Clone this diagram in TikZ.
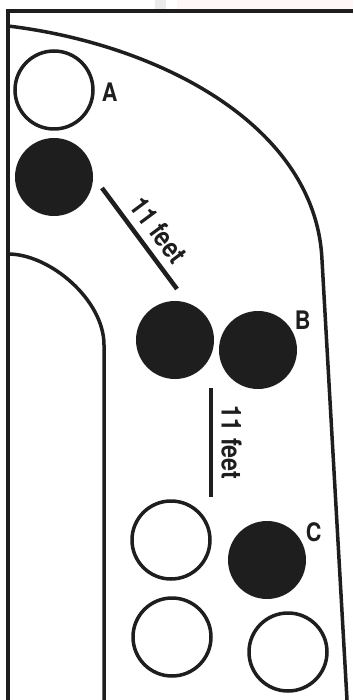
\documentclass[tikz,border=0pt]{standalone}
\usepackage{fontspec}
\newfontfamily\tagfont[FakeStretch=0.85]{TeX Gyre Heros}
\usepackage{tikz}
\usetikzlibrary{positioning}
\usepackage{xcolor}
\definecolor{ink}{RGB}{30,30,30}

\begin{document}
\begin{tikzpicture}[x=1pt,y=-1pt,
  chip/.style={circle,minimum size=78pt,inner sep=0pt},
  ring/.style={chip,draw=ink,line width=3.5pt},
  disc/.style={chip,fill=ink},
  tag/.style={inner sep=0pt,text=ink,font=\tagfont\bfseries\fontsize{25.5}{26}\selectfont},
  feet/.style={inner sep=0pt,text=ink,font=\tagfont\bfseries\fontsize{27.5}{28}\selectfont},
  rail/.style={draw=ink,line width=3.5pt},
  dim/.style={draw=ink,line width=4.5pt}]
\useasboundingbox (0,0) rectangle (353,700);
% faint strip above the frame
\fill[black!8] (155,0) rectangle (166,9);
\fill[red!3] (177,0) rectangle (353,9);
% frame and the two edges of the lane
\draw[rail,line width=4pt] (7.5,700) -- (7.5,11) -- (353,11);
\draw[rail] (8,26) .. controls (158,44) and (316,125) .. (322,260) -- (347,700);
\draw[rail] (8,254) .. controls (50,254) and (104,300) .. (104,345) -- (104,700);
% cones
\node[ring] (a) at (54,90) {};
\node[disc] (a2) at (54,177) {};
\node[disc] (b1) at (175,340) {};
\node[disc] (b) at (258,350) {};
\node[ring] (c1) at (171,540) {};
\node[disc] (c) at (267,560) {};
\node[ring] (c2) at (172,637) {};
\node[ring] (c3) at (288,652) {};
\node[tag,right=7pt of a,yshift=-2.5pt] (la) {A};
\node[tag,right=9pt of b.north east,yshift=2.5pt] (lb) {B};
\node[tag,right=11pt of c.north east] (lc) {C};
% distances
\coordinate (d1) at (102,188);
\coordinate (d2) at (177,289);
\coordinate (d3) at (211,388);
\coordinate (d4) at (211,497);
\draw[dim] (d1) -- (d2) node[feet,sloped,pos=0.54,above=8pt] (f1) {11 feet};
\draw[dim] (d3) -- (d4) node[feet,sloped,midway,above=8pt] (f2) {11 feet};
\end{tikzpicture}
\end{document}
